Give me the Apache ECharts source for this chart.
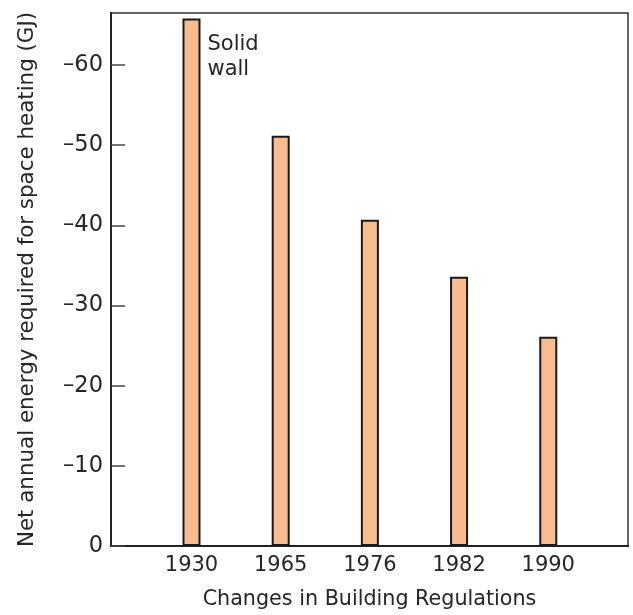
<!DOCTYPE html>
<html>
<head>
<meta charset="utf-8">
<script src="https://cdn.jsdelivr.net/npm/echarts@6/dist/echarts.min.js"></script>
<style>
html,body{margin:0;padding:0;background:#fff;}
#chart{width:633px;height:615px;}
</style>
</head>
<body>
<div id="chart"></div>
<script>
const categories = ['1930', '1965', '1976', '1982', '1990'];
const energyValues = [65.8, 51.2, 40.7, 33.6, 26.1];
const yTickValues = [0, 10, 20, 30, 40, 50, 60];
const yTickLabels = ['0', '–10', '–20', '–30', '–40', '–50', '–60'];
const barNote = 'Solid\nwall';

const FONT = 'DejaVu Sans';
const TEXT = '#262626';

const chart = echarts.init(document.getElementById('chart'));
const seriesData = energyValues.map(function (v, i) {
  const item = { value: [i, v] };
  if (i === 0) {
    item.label = {
      show: true,
      formatter: barNote,
      position: [25, 13],
      align: 'left',
      verticalAlign: 'top',
      fontFamily: FONT,
      fontSize: 21,
      lineHeight: 25,
      color: TEXT
    };
  }
  return item;
});

chart.setOption({
  animation: false,
  backgroundColor: '#fff',
  grid: {
    left: 111, right: 5, top: 13, bottom: 67,
    show: true, borderColor: '#333', borderWidth: 1.5,
    containLabel: false
  },
  xAxis: {
    type: 'value',
    min: -0.9025,
    max: 4.894,
    name: 'Changes in Building Regulations',
    nameLocation: 'middle',
    nameGap: 43,
    nameTextStyle: { fontFamily: FONT, fontSize: 20.7, color: TEXT },
    axisLine: { show: true, onZero: false, lineStyle: { color: '#222', width: 2 } },
    axisTick: { show: false },
    splitLine: { show: false },
    axisLabel: {
      customValues: [0, 1, 2, 3, 4],
      formatter: function (v) { return categories[Math.round(v)]; },
      fontFamily: FONT, fontSize: 21, color: TEXT, margin: 9
    }
  },
  yAxis: {
    type: 'value',
    min: 0,
    max: 66.5,
    interval: 10,
    name: 'Net annual energy required for space heating (GJ)',
    nameLocation: 'middle',
    nameGap: 73,
    nameTextStyle: { fontFamily: FONT, fontSize: 21.4, color: TEXT },
    axisLine: { show: true, onZero: false, lineStyle: { color: '#222', width: 2 } },
    axisTick: {
      show: true, inside: true, length: 14,
      customValues: yTickValues,
      lineStyle: { color: '#444', width: 1.5 }
    },
    splitLine: { show: false },
    axisLabel: {
      customValues: yTickValues,
      formatter: function (v) {
        const idx = yTickValues.indexOf(Math.round(v));
        return idx >= 0 ? yTickLabels[idx] : '';
      },
      fontFamily: FONT, fontSize: 22.5, color: TEXT, margin: 8
    }
  },
  series: [{
    type: 'bar',
    data: seriesData,
    barWidth: 18,
    itemStyle: { color: '#F9BC90', borderColor: '#1a1a1a', borderWidth: 2 }
  }]
});
</script>
</body>
</html>
